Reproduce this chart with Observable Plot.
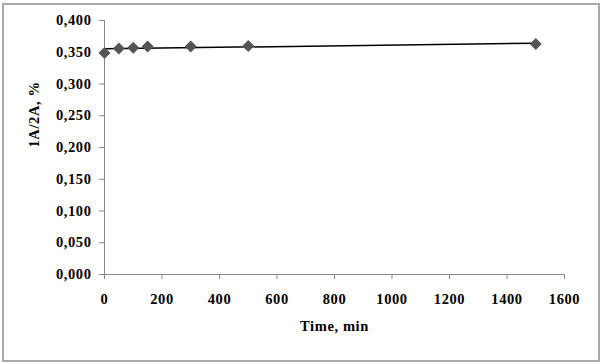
<!DOCTYPE html>
<html>
<head>
<meta charset="utf-8">
<script src="https://cdn.jsdelivr.net/npm/d3@7"></script>
<script src="https://cdn.jsdelivr.net/npm/@observablehq/plot@0.6"></script>
<style>
  html, body { margin: 0; padding: 0; background: #fff; }
</style>
</head>
<body>
<div id="chart"></div>
<script>
const time = [0, 50, 100, 150, 300, 500, 1500];
const ratio = [0.349, 0.356, 0.357, 0.359, 0.359, 0.360, 0.363];
const xTicks = [0, 200, 400, 600, 800, 1000, 1200, 1400, 1600];
const yTicks = [0, 0.05, 0.1, 0.15, 0.2, 0.25, 0.3, 0.35, 0.4];
const xLabel = "Time, min";
const yLabel = "1A/2A, %";

const data = time.map((t, i) => ({t, v: ratio[i]}));
const fmtY = d => d3.format(".3f")(d).replace(".", ",");

const font = "'Liberation Serif', 'Times New Roman', serif";

const chart = Plot.plot({
  width: 602,
  height: 362,
  marginLeft: 104,
  marginRight: 38,
  marginTop: 20,
  marginBottom: 88,
  style: {fontFamily: font, fontSize: "14.5px", fontWeight: "bold", background: "#fff", overflow: "visible", letterSpacing: "0.6px"},
  x: {domain: [0, 1600], ticks: xTicks},
  y: {domain: [0, 0.4], ticks: yTicks},
  marks: [
    Plot.frame({insetLeft: -101.5, insetTop: -16.5, insetRight: -34.5, insetBottom: -86.5, stroke: "#aaa", strokeWidth: 2}),
    Plot.axisX({ticks: xTicks, tickSize: 5, tickPadding: 14, stroke: "#888", fill: "#000", label: null, tickFormat: d => String(d)}),
    Plot.axisY({ticks: yTicks, tickSize: 5, tickPadding: 8, stroke: "#888", fill: "#000", label: null, tickFormat: fmtY}),
    Plot.ruleX([0], {stroke: "#888"}),
    Plot.ruleY([0], {stroke: "#888"}),
    Plot.linearRegressionY(data, {x: "t", y: "v", ci: 0, stroke: "#000", strokeWidth: 1.5}),
    Plot.dot(data, {x: "t", y: "v", symbol: "diamond2", r: 5.4, fill: "#555", stroke: "none"}),
    Plot.text([xLabel], {frameAnchor: "bottom", dy: 56, fill: "#000", fontSize: 14.5}),
    Plot.text([yLabel], {frameAnchor: "left", rotate: -90, dx: -70, fill: "#000", fontSize: 14.5})
  ]
});
document.getElementById("chart").appendChild(chart);
</script>
</body>
</html>
